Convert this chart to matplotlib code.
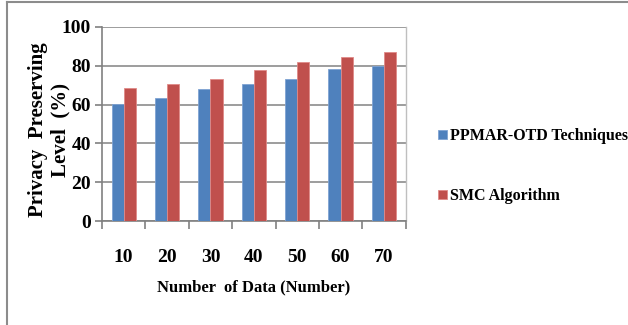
import numpy as np
import matplotlib
matplotlib.use('Agg')
import matplotlib.pyplot as plt
from matplotlib.lines import Line2D

# Data
data_sizes = ['10', '20', '30', '40', '50', '60', '70']
ppmar_otd = [60.3, 63.2, 67.9, 70.8, 73.4, 78.2, 79.9]
smc = [68.7, 70.8, 73.4, 78.0, 81.8, 84.7, 87.3]
series_names = ['PPMAR-OTD Techniques', 'SMC Algorithm']

plt.rcParams['font.family'] = 'Liberation Serif'
plt.rcParams['font.weight'] = 'bold'

fig = plt.figure(figsize=(6.28, 3.25), dpi=100)
ax = fig.add_axes([0.1624, 0.32, 0.4836, 0.597])

x = np.arange(len(data_sizes))
w = 0.28
b1 = ax.bar(x - w / 2, ppmar_otd, w, color='#4F81BD', edgecolor='#7FA3D3',
            linewidth=0.6, label=series_names[0], zorder=3)
b2 = ax.bar(x + w / 2, smc, w, color='#C0504D', edgecolor='#E08A88',
            linewidth=0.6, label=series_names[1], zorder=3)

ax.set_xlim(-0.5, len(data_sizes) - 0.5)
ax.set_ylim(0, 100)
ax.set_yticks(range(0, 101, 20))
ax.yaxis.grid(True, color='#8C8C8C', linewidth=1.2, zorder=0)

# category ticks sit between the groups
ax.set_xticks(x)
ax.set_xticklabels(data_sizes, fontsize=14, fontweight='bold')
ax.set_xticks(np.arange(-0.5, len(data_sizes)), minor=True)
ax.tick_params(axis='x', which='major', length=0, pad=20)
ax.tick_params(axis='x', which='minor', length=6, width=1.2, color='#808080', direction='out')
ax.tick_params(axis='y', length=5, width=1.2, color='#808080', labelsize=14, pad=3)
for lbl in ax.get_yticklabels():
    lbl.set_fontweight('bold')

for side in ['left', 'bottom']:
    ax.spines[side].set_color('#808080')
    ax.spines[side].set_linewidth(1.2)
ax.spines['right'].set_color('#BFBFBF')
ax.spines['right'].set_linewidth(1.0)
ax.spines['top'].set_visible(False)

ax.set_xlabel('Number  of Data (Number)', fontsize=12, fontweight='bold', labelpad=10)
ax.set_ylabel('Privacy  Preserving\nLevel  (%)', fontsize=15, fontweight='bold',
              linespacing=1.12)
ax.yaxis.set_label_coords(-0.105, 0.47)

fig.legend(handles=[b1, b2], labels=series_names, loc='upper left',
           bbox_to_anchor=(0.688, 0.625), frameon=False, fontsize=11.5,
           handlelength=0.55, handleheight=0.55, handletextpad=0.15,
           labelspacing=2.75, borderaxespad=0)

# outer frame of the figure (top and left edges)
fig.add_artist(Line2D([0.011, 1.0], [0.994, 0.994], transform=fig.transFigure,
                      color='#8C8C8C', linewidth=1.5))
fig.add_artist(Line2D([0.011, 0.011], [0.0, 0.994], transform=fig.transFigure,
                      color='#8C8C8C', linewidth=1.5))

fig.savefig('out.png', dpi=100)
